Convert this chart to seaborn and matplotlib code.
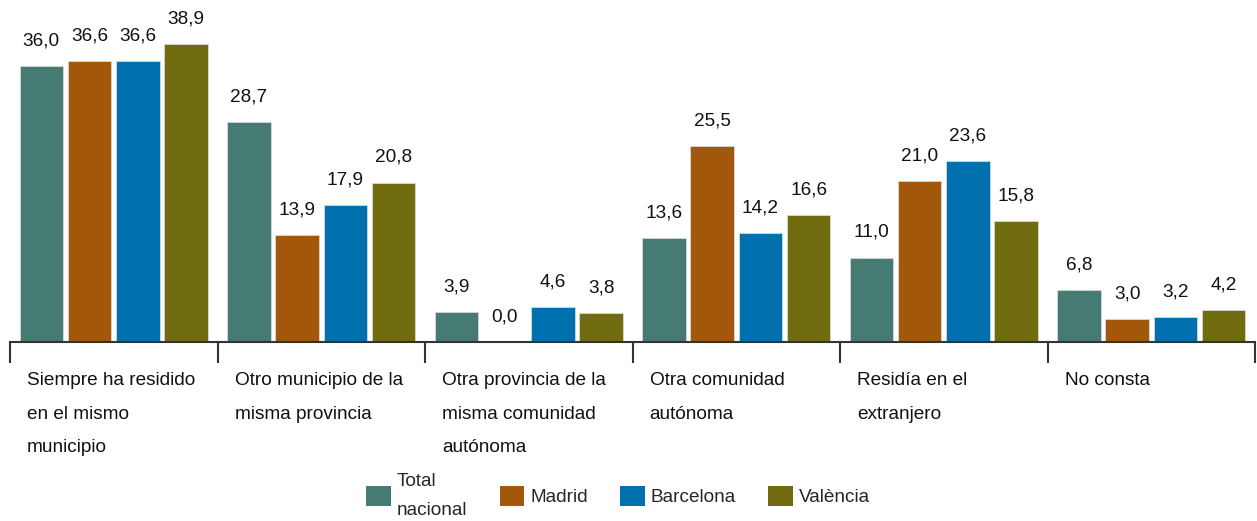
import matplotlib.pyplot as plt
import seaborn as sns
import pandas as pd
from matplotlib.patches import Patch

sns.set_style("white")
plt.rcParams['font.family'] = ['Liberation Sans', 'DejaVu Sans']

categories = [
    "Siempre ha residido\nen el mismo\nmunicipio",
    "Otro municipio de la\nmisma provincia",
    "Otra provincia de la\nmisma comunidad\nautónoma",
    "Otra comunidad\nautónoma",
    "Residía en el\nextranjero",
    "No consta",
]
series = ["Total nacional", "Madrid", "Barcelona", "València"]
legend_labels = ["Total\nnacional", "Madrid", "Barcelona", "València"]
total_nacional = [36.0, 28.7, 3.9, 13.6, 11.0, 6.8]
madrid = [36.6, 13.9, 0.0, 25.5, 21.0, 3.0]
barcelona = [36.6, 17.9, 4.6, 14.2, 23.6, 3.2]
valencia = [38.9, 20.8, 3.8, 16.6, 15.8, 4.2]
colors = ["#467b73", "#a3570b", "#0070af", "#716c10"]

rows = []
for name, vals in zip(series, [total_nacional, madrid, barcelona, valencia]):
    for cat, v in zip(categories, vals):
        rows.append({"cat": cat, "serie": name, "valor": v})
df = pd.DataFrame(rows)

fs = 13.7

fig = plt.figure(figsize=(12.57, 5.21), dpi=100)
ax = fig.add_axes([10 / 1257, (521 - 342) / 521, 1245 / 1257, 342 / 521])

sns.barplot(
    data=df, x="cat", y="valor", hue="serie",
    order=categories, hue_order=series,
    palette=colors, width=0.93, gap=0.1,
    saturation=1, legend=False, ax=ax,
    edgecolor="#d8d8d8", linewidth=0.6,
)

for cont in ax.containers:
    ax.bar_label(
        cont,
        labels=[f"{b.get_height():.1f}".replace(".", ",") for b in cont],
        padding=12, fontsize=fs, color="#111111",
    )

ax.set_ylim(0, 44.6)
ax.set_xlim(-0.5, 5.5)
ax.set_xlabel("")
ax.set_ylabel("")
ax.set_yticks([])
ax.set_xticks([i - 0.5 for i in range(7)])
ax.set_xticklabels([])
ax.tick_params(axis="x", direction="out", length=15, width=1.5,
               color="#333333", bottom=True)
for s in ["top", "right", "left"]:
    ax.spines[s].set_visible(False)
ax.spines["bottom"].set_color("#333333")
ax.spines["bottom"].set_linewidth(1.5)

for i, cat in enumerate(categories):
    ax.text(i - 0.5 + 0.082, -0.089, cat, transform=ax.get_xaxis_transform(),
            ha="left", va="top", fontsize=fs, linespacing=2.25,
            color="#111111")

handles = [Patch(facecolor=c, edgecolor="none") for c in colors]
leg = fig.legend(handles, legend_labels, loc="center",
                 bbox_to_anchor=(618 / 1257, 1 - 496 / 521), ncol=4,
                 frameon=False, fontsize=fs, handlelength=1.3,
                 handleheight=1.3, handletextpad=0.3, columnspacing=1.7,
                 labelspacing=0.2)
for t in leg.get_texts():
    t.set_linespacing(1.9)

fig.savefig("out.png", dpi=100)
